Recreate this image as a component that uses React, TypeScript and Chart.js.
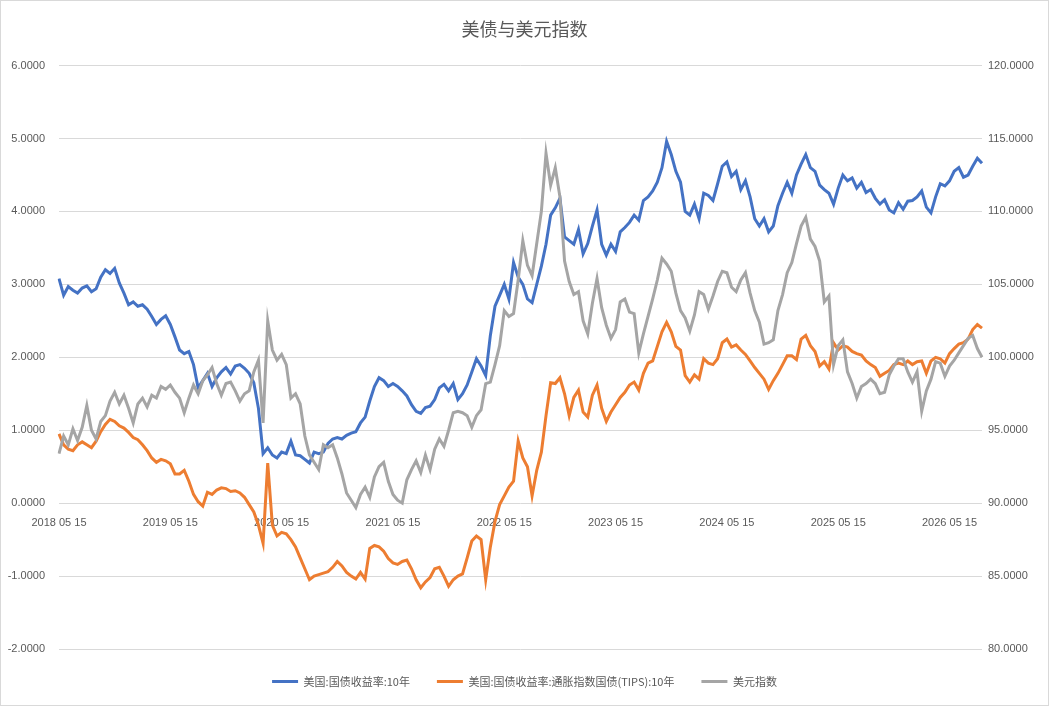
import React, { useEffect, useRef } from 'react';
import Chart from 'chart.js/auto';

const chartTitle = '美债与美元指数';
const seriesNames = ['美国:国债收益率:10年', '美国:国债收益率:通胀指数国债(TIPS):10年', '美元指数'];
const seriesColors = ['#4472C4', '#ED7D31', '#A5A5A5'];
const tickYears = [2018, 2019, 2020, 2021, 2022, 2023, 2024, 2025, 2026];
const leftTicks = [-2, -1, 0, 1, 2, 3, 4, 5, 6];
const rightTicks = [80, 85, 90, 95, 100, 105, 110, 115, 120];

// 美国:国债收益率:10年 (semi-monthly, from 2018 05 15)
const tenYear = [
  3.08, 2.85, 2.97, 2.92, 2.88, 2.95, 2.98, 2.90, 2.94, 3.10,
  3.20, 3.15, 3.22, 3.02, 2.88, 2.72, 2.76, 2.70, 2.72, 2.66,
  2.56, 2.45, 2.52, 2.57, 2.45, 2.28, 2.10, 2.05, 2.08, 1.90,
  1.58, 1.68, 1.78, 1.60, 1.72, 1.80, 1.86, 1.77, 1.88, 1.90,
  1.85, 1.78, 1.65, 1.30, 0.68, 0.76, 0.66, 0.62, 0.70, 0.68,
  0.85, 0.66, 0.65, 0.60, 0.55, 0.70, 0.68, 0.70, 0.82, 0.88,
  0.90, 0.88, 0.93, 0.96, 0.98, 1.10, 1.18, 1.40, 1.60, 1.72,
  1.68, 1.60, 1.64, 1.60, 1.54, 1.47, 1.35, 1.26, 1.23, 1.31,
  1.33, 1.42, 1.58, 1.63, 1.54, 1.64, 1.42, 1.50, 1.62, 1.80,
  1.98, 1.88, 1.75, 2.30, 2.70, 2.85, 3.00, 2.80, 3.30, 3.10,
  3.00, 2.80, 2.75, 3.00, 3.25, 3.55, 3.95, 4.05, 4.18, 3.65,
  3.60, 3.55, 3.75, 3.42, 3.56, 3.80, 4.02, 3.55, 3.40, 3.55,
  3.45, 3.72, 3.78, 3.85, 3.95, 3.88, 4.15, 4.20, 4.28, 4.40,
  4.60, 4.96, 4.78, 4.55, 4.40, 4.00, 3.95, 4.10, 3.90, 4.25,
  4.22, 4.15, 4.38, 4.62, 4.68, 4.48, 4.55, 4.30, 4.42, 4.20,
  3.90, 3.80, 3.90, 3.72, 3.80, 4.08, 4.25, 4.40, 4.25, 4.50,
  4.65, 4.78, 4.60, 4.55, 4.36, 4.30, 4.25, 4.10, 4.32, 4.50,
  4.42, 4.46, 4.32, 4.40, 4.26, 4.30, 4.18, 4.10, 4.16, 4.02,
  3.98, 4.12, 4.03, 4.14, 4.15, 4.20, 4.28, 4.06, 3.98, 4.20,
  4.38, 4.35, 4.42, 4.55, 4.60, 4.47, 4.50, 4.62, 4.73, 4.66,
];

// 美国:国债收益率:通胀指数国债(TIPS):10年
const tips10Y = [
  0.95, 0.80, 0.74, 0.72, 0.80, 0.84, 0.80, 0.76, 0.85, 0.98,
  1.08, 1.15, 1.12, 1.06, 1.03, 0.97, 0.90, 0.87, 0.80, 0.72,
  0.62, 0.56, 0.60, 0.58, 0.54, 0.40, 0.40, 0.45, 0.30, 0.12,
  0.02, -0.04, 0.15, 0.12, 0.18, 0.21, 0.20, 0.16, 0.17, 0.14,
  0.08, -0.02, -0.12, -0.30, -0.55, 0.55, -0.30, -0.45, -0.40, -0.42,
  -0.50, -0.60, -0.75, -0.90, -1.05, -1.00, -0.98, -0.96, -0.94, -0.88,
  -0.80, -0.86, -0.95, -1.00, -1.04, -0.95, -1.04, -0.62, -0.58, -0.60,
  -0.66, -0.76, -0.82, -0.84, -0.80, -0.78, -0.90, -1.05, -1.16, -1.08,
  -1.02, -0.90, -0.88, -1.00, -1.14, -1.05, -1.00, -0.97, -0.75, -0.52,
  -0.45, -0.50, -1.05, -0.60, -0.25, -0.02, 0.10, 0.22, 0.30, 0.85,
  0.62, 0.50, 0.10, 0.45, 0.70, 1.20, 1.65, 1.64, 1.72, 1.50,
  1.20, 1.45, 1.55, 1.25, 1.18, 1.48, 1.62, 1.30, 1.12, 1.25,
  1.35, 1.45, 1.52, 1.62, 1.66, 1.55, 1.78, 1.92, 1.95, 2.15,
  2.35, 2.48, 2.35, 2.15, 2.10, 1.75, 1.66, 1.76, 1.70, 1.98,
  1.92, 1.90, 1.98, 2.20, 2.25, 2.14, 2.17, 2.10, 2.04, 1.95,
  1.86, 1.78, 1.70, 1.56, 1.68, 1.78, 1.90, 2.02, 2.02, 1.97,
  2.25, 2.30, 2.16, 2.08, 1.88, 1.94, 1.84, 2.20, 2.10, 2.16,
  2.14, 2.08, 2.05, 2.03, 1.95, 1.90, 1.86, 1.74, 1.78, 1.82,
  1.90, 1.92, 1.90, 1.95, 1.90, 1.94, 1.95, 1.78, 1.95, 2.00,
  1.98, 1.92, 2.05, 2.12, 2.18, 2.20, 2.25, 2.38, 2.45, 2.40,
];

// 美元指数 (right axis)
const dollarIndex = [
  93.4, 94.6, 94.0, 95.1, 94.3, 95.2, 96.7, 95.0, 94.4, 95.6,
  96.0, 97.0, 97.6, 96.8, 97.4, 96.5, 95.5, 96.8, 97.2, 96.6,
  97.4, 97.2, 98.0, 97.8, 98.1, 97.6, 97.2, 96.2, 97.2, 98.1,
  97.5, 98.4, 98.8, 99.3, 98.2, 97.4, 98.2, 98.3, 97.7, 97.0,
  97.5, 97.7, 99.0, 99.8, 95.5, 102.5, 100.5, 99.8, 100.2, 99.5,
  97.2, 97.5, 96.8, 94.6, 93.3, 92.8, 92.3, 94.0, 93.8, 94.0,
  93.1, 92.0, 90.7, 90.2, 89.7, 90.6, 91.1, 90.4, 91.8, 92.5,
  92.8, 91.5, 90.6, 90.2, 90.0, 91.6, 92.3, 92.9, 92.1, 93.3,
  92.3, 93.7, 94.4, 93.9, 95.0, 96.2, 96.3, 96.2, 96.0, 95.2,
  96.0, 96.4, 98.2, 98.3, 99.5, 100.8, 103.2, 102.8, 103.0, 105.3,
  108.0, 106.3, 105.6, 107.8, 110.0, 114.0, 111.8, 113.0, 111.0, 106.6,
  105.2, 104.3, 104.5, 102.5, 101.6, 103.7, 105.4, 103.4, 102.2, 101.3,
  101.9, 103.8, 104.0, 103.1, 103.0, 100.3, 101.6, 102.8, 104.0, 105.3,
  106.8, 106.4, 105.9, 104.4, 103.2, 102.7, 101.8, 102.9, 104.5, 104.3,
  103.3, 104.2, 105.2, 105.9, 105.8, 104.8, 104.5, 105.3, 105.8, 104.4,
  103.2, 102.4, 100.9, 101.0, 101.2, 103.2, 104.3, 105.8, 106.5, 107.8,
  109.0, 109.6, 108.1, 107.6, 106.6, 103.8, 104.2, 99.5, 100.8, 101.2,
  99.0, 98.2, 97.2, 98.0, 98.2, 98.5, 98.2, 97.5, 97.6, 98.8,
  99.4, 99.9, 99.9, 99.0, 98.3, 99.0, 96.3, 97.7, 98.5, 99.7,
  99.6, 98.7, 99.4, 99.8, 100.3, 100.8, 101.3, 101.5, 100.6, 100.0,
];

// category labels: the 15th and the 1st of each month, starting 2018 05 15
const dateLabels = tenYear.map((_, i) => {
  const m = 4 + Math.ceil(i / 2);
  const y = tickYears[0] + Math.floor(m / 12);
  const mm = String((m % 12) + 1).padStart(2, '0');
  return `${y} ${mm} ${i % 2 === 0 ? '15' : '01'}`;
});

const textColor = '#595959';
const gridColor = '#d9d9d9';
const cjkFont = '"Noto Sans CJK SC", "Noto Sans", sans-serif';
const numFont = '"Liberation Sans", "DejaVu Sans", sans-serif';

const frame = {
  id: 'frame',
  beforeDraw(chart: Chart) {
    const { ctx, width, height } = chart;
    ctx.save();
    ctx.fillStyle = '#ffffff';
    ctx.fillRect(0, 0, width, height);
    ctx.restore();
  },
  afterDraw(chart: Chart) {
    const { ctx, width, height } = chart;
    ctx.save();
    ctx.strokeStyle = gridColor;
    ctx.lineWidth = 1;
    ctx.strokeRect(0.5, 0.5, width - 1, height - 1);
    ctx.restore();
  },
};

const BondDollarChart: React.FC = () => {
  const canvasRef = useRef<HTMLCanvasElement>(null);
  const chartRef = useRef<Chart | null>(null);

  useEffect(() => {
    document.body.style.margin = '0';
    if (!canvasRef.current) return;
    if (chartRef.current) chartRef.current.destroy();

    const ctx = canvasRef.current.getContext('2d');
    if (!ctx) return;

    const values = [tenYear, tips10Y, dollarIndex];

    chartRef.current = new Chart(ctx, {
      type: 'line',
      data: {
        labels: dateLabels,
        datasets: values.map((v, i) => ({
          label: seriesNames[i],
          data: v,
          borderColor: seriesColors[i],
          backgroundColor: seriesColors[i],
          borderWidth: 3,
          pointRadius: 0,
          fill: false,
          tension: 0,
          yAxisID: i === 2 ? 'y1' : 'y',
          order: 3 - i,
        })),
      },
      options: {
        responsive: false,
        animation: false,
        events: [],
        layout: { padding: { top: 0, bottom: 9, left: 0, right: 0 } },
        plugins: {
          title: {
            display: true,
            text: chartTitle,
            color: textColor,
            font: { family: cjkFont, size: 18, weight: 'normal' },
            padding: { top: 18, bottom: 26 },
          },
          legend: {
            position: 'bottom',
            labels: {
              color: textColor,
              font: { family: cjkFont, size: 11 },
              boxWidth: 26,
              boxHeight: 3,
              padding: 27,
              generateLabels: (chart) =>
                Chart.defaults.plugins.legend.labels
                  .generateLabels(chart)
                  .map((l) => ({ ...l, lineWidth: 0 })),
              sort: (a, b) => (a.datasetIndex ?? 0) - (b.datasetIndex ?? 0),
            },
          },
          tooltip: { enabled: false },
        },
        scales: {
          x: {
            position: { y: 0 },
            grid: { display: false, drawTicks: false },
            border: { display: false },
            ticks: {
              autoSkip: false,
              maxRotation: 0,
              minRotation: 0,
              padding: 13,
              color: textColor,
              font: { family: numFont, size: 11 },
              callback(value) {
                const label = this.getLabelForValue(value as number);
                return label.endsWith('05 15') ? label : '';
              },
            },
          },
          y: {
            position: 'left',
            min: leftTicks[0],
            max: leftTicks[leftTicks.length - 1],
            grid: { color: gridColor, lineWidth: 1, drawTicks: false },
            border: { display: false },
            ticks: {
              stepSize: leftTicks[1] - leftTicks[0],
              padding: 14,
              color: textColor,
              font: { family: numFont, size: 11 },
              callback: (v) => Number(v).toFixed(4),
            },
            afterFit(scale) {
              scale.width = 59;
            },
          },
          y1: {
            position: 'right',
            min: rightTicks[0],
            max: rightTicks[rightTicks.length - 1],
            grid: { display: false, drawTicks: false },
            border: { display: false },
            ticks: {
              stepSize: rightTicks[1] - rightTicks[0],
              padding: 6,
              color: textColor,
              font: { family: numFont, size: 11 },
              callback: (v) => Number(v).toFixed(4),
            },
            afterFit(scale) {
              scale.width = 67;
            },
          },
        },
      },
      plugins: [frame],
    });

    return () => {
      if (chartRef.current) {
        chartRef.current.destroy();
        chartRef.current = null;
      }
    };
  }, []);

  return (
    <div style={{ width: 1049, height: 706 }}>
      <canvas ref={canvasRef} width={1049} height={706} style={{ display: 'block' }}></canvas>
    </div>
  );
};

export default function App() {
  return <BondDollarChart />;
}
